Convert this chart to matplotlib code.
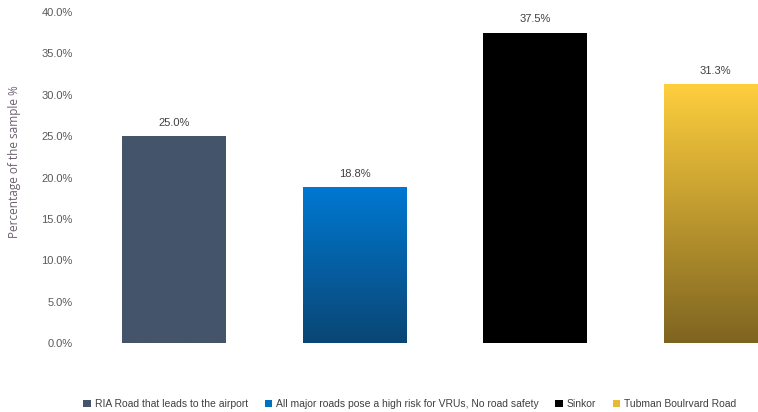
import matplotlib.pyplot as plt
import numpy as np
from matplotlib.colors import LinearSegmentedColormap
from matplotlib.patches import Patch

plt.rcParams['font.family'] = ['Liberation Sans', 'DejaVu Sans']

categories = ['RIA Road that leads to the airport',
              'All major roads pose a high risk for VRUs, No road safety',
              'Sinkor',
              'Tubman Boulrvard Road']
values = [25.0, 18.8, 37.5, 31.3]
yticks = [0, 5, 10, 15, 20, 25, 30, 35, 40]

# top colour, bottom colour for each bar
top_colors = ['#44546A', '#0078D2', '#000000', '#FFCF3E']
bottom_colors = ['#44546A', '#0A4674', '#000000', '#7E6421']
legend_colors = ['#44546A', '#0070C0', '#000000', '#E8B935']

fig = plt.figure(figsize=(7.58, 4.12), dpi=100)
ax = fig.add_axes([84/758, 69/412, 722/758, 331/412])

x = np.arange(len(categories))
bars = ax.bar(x, values, width=0.575, color='none', edgecolor='none')

grad = np.linspace(1, 0, 256).reshape(-1, 1)
for b, v, c_top, c_bot in zip(bars, values, top_colors, bottom_colors):
    cmap = LinearSegmentedColormap.from_list('g', [c_bot, c_top])
    x0 = b.get_x()
    im = ax.imshow(grad, cmap=cmap, vmin=0, vmax=1, aspect='auto',
                   extent=[x0, x0 + b.get_width(), 0, v], zorder=2)
    im.set_clip_path(b)
    ax.text(b.get_x() + b.get_width() / 2, v + 1.0, f'{v:.1f}%',
            ha='center', va='bottom', fontsize=8, color='#404040')

ax.set_xlim(-0.5, 3.5)
ax.set_ylim(0, 40)
ax.set_yticks(yticks)
ax.set_yticklabels([f'{t:.1f}%' for t in yticks], fontsize=8, color='#595959')
ax.set_xticks([])
ax.tick_params(axis='y', length=0, pad=8)
for s in ax.spines.values():
    s.set_visible(False)

fig.text(15/758, 0.607, 'Percentage of the sample %', rotation=90,
         ha='center', va='center', fontsize=8.5, color='#6b5f6f',
         family=['Open Sans', 'DejaVu Sans'])

handles = [Patch(facecolor=c, label=l) for c, l in zip(legend_colors, categories)]
fig.legend(handles=handles, loc='center', bbox_to_anchor=(410/758, 8/412),
           ncol=4, frameon=False, fontsize=7.5, handlelength=0.7, handleheight=0.7,
           handletextpad=0.4, columnspacing=1.6, labelcolor='#404040',
           borderpad=0, borderaxespad=0)

fig.savefig('out.png', dpi=100)
